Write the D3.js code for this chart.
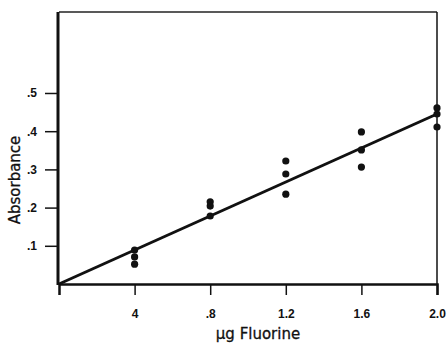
<!DOCTYPE html>
<html><head><meta charset="utf-8">
<script src="https://cdn.jsdelivr.net/npm/d3@7"></script>
<style>body{margin:0;background:#fff}svg{display:block}</style>
</head><body>
<script>
const xTicks = [0.4, 0.8, 1.2, 1.6, 2.0];
const xTickLabels = ["4", ".8", "1.2", "1.6", "2.0"];
const yTicks = [0.1, 0.2, 0.3, 0.4, 0.5];
const yTickLabels = [".1", ".2", ".3", ".4", ".5"];
const pointX = [0.4,0.4,0.4, 0.8,0.8,0.8, 1.2,1.2,1.2, 1.6,1.6,1.6, 2.0,2.0,2.0];
const pointY = [0.089,0.071,0.052, 0.215,0.204,0.178, 0.322,0.288,0.235, 0.398,0.351,0.306, 0.461,0.445,0.411];
const fitX = [0, 2.0];
const fitY = [0, 0.445];

const W = 447, H = 344;
const m = {left:58, right:10, top:12, bottom:60};
const svg = d3.select("body").append("svg").attr("width", W).attr("height", H);
const x = d3.scaleLinear().domain([0, 2.0]).range([m.left+1, W - m.right]);
const y = d3.scaleLinear().domain([0, 0.712]).range([H - m.bottom, m.top]);

const font = "'Liberation Sans', Arial, sans-serif";

// frame
svg.append("line").attr("x1", x(0)).attr("x2", x(2)).attr("y1", y(0.712)).attr("y2", y(0.712))
  .attr("stroke","#222").attr("stroke-width",1.5);
svg.append("line").attr("x1", x(2)).attr("x2", x(2)).attr("y1", y(0.712)).attr("y2", y(0))
  .attr("stroke","#111").attr("stroke-width",1.5);

// x axis
const xAxis = d3.axisBottom(x).tickValues(xTicks).tickFormat((d,i)=>xTickLabels[i]).tickSize(11).tickPadding(14);
const gx = svg.append("g").attr("transform", `translate(0,${y(0)})`).call(xAxis);
gx.select(".domain").attr("stroke","#111").attr("stroke-width",2.5);
gx.selectAll(".tick line").attr("stroke","#111").attr("stroke-width",1.5);
gx.selectAll(".tick text").attr("font-family",font).attr("font-weight","bold").attr("font-size",12).attr("fill","#111");

// y axis
const yAxis = d3.axisLeft(y).tickValues(yTicks).tickFormat((d,i)=>yTickLabels[i]).tickSize(13).tickPadding(8);
const gy = svg.append("g").attr("transform", `translate(${m.left},0)`).call(yAxis);
gy.select(".domain").attr("stroke","#111").attr("stroke-width",3).attr("d", `M0,${y(0)+1}V${y(0.712)}`);
gy.selectAll(".tick line").attr("stroke","#111").attr("stroke-width",1.5);
gy.selectAll(".tick text").attr("font-family",font).attr("font-weight","bold").attr("font-size",12).attr("fill","#111");

// fit line
svg.append("path").datum(fitX.map((d,i)=>[d, fitY[i]]))
  .attr("d", d3.line().x(d=>x(d[0])).y(d=>y(d[1])))
  .attr("stroke","#111").attr("stroke-width",3).attr("fill","none");

// points
svg.selectAll("circle.pt").data(pointX.map((d,i)=>[d, pointY[i]])).enter().append("circle")
  .attr("class","pt").attr("cx", d=>x(d[0])).attr("cy", d=>y(d[1])).attr("r",3.6).attr("fill","#111");

// labels
svg.append("text").attr("x", 258).attr("y", 339).attr("text-anchor","middle")
  .attr("font-family","'DejaVu Sans', sans-serif").attr("font-size",15).attr("fill","#111")
  .attr("stroke","#111").attr("stroke-width",0.3).text("μg Fluorine");
svg.append("text").attr("transform", "translate(20,180) rotate(-90)").attr("text-anchor","middle")
  .attr("font-family","'DejaVu Sans', sans-serif").attr("font-size",15).attr("fill","#111")
  .attr("stroke","#111").attr("stroke-width",0.3).text("Absorbance");
</script>
</body></html>
